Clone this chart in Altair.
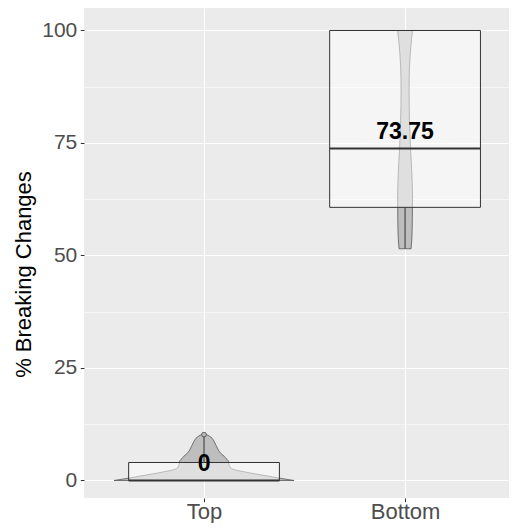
import altair as alt
import pandas as pd

# ---- data ----
groups = ["Top", "Bottom"]
group_pos = [1, 2]

q1 = [0, 60.7]
median = [0, 73.75]
q3 = [4, 100]
whisk_lo = [0, 51.5]
whisk_hi = [10, 100]

outlier_group = ["Top"]
outlier_value = [10.2]

# violin outlines: value levels and half-widths (in category units)
top_violin_y = [0, 0.5, 1.1, 1.85, 2.5, 3.0, 3.6, 4.2, 4.7, 5.4, 6.1, 6.9, 7.8, 8.7, 9.4, 9.9, 10.3]
top_violin_hw = [0.448, 0.378, 0.303, 0.209, 0.144, 0.129, 0.124, 0.122, 0.114, 0.100,
                 0.082, 0.070, 0.060, 0.050, 0.040, 0.025, 0.010]
bottom_violin_y = [51.5, 54, 58, 63, 69, 74, 80, 87, 92, 95, 98, 100]
bottom_violin_hw = [0.030, 0.034, 0.036, 0.037, 0.033, 0.027, 0.022, 0.020, 0.022, 0.026, 0.032, 0.037]

y_ticks = [0, 12.5, 25, 37.5, 50, 62.5, 75, 87.5, 100]

FONT = "Liberation Sans"
BOX_HALF = 0.375

# ---- tables ----
vrows = []
for g, p, ys, hws in [("Top", 1, top_violin_y, top_violin_hw),
                      ("Bottom", 2, bottom_violin_y, bottom_violin_hw)]:
    for y, h in zip(ys, hws):
        vrows.append({"group": g, "value": y, "lo": p - h, "hi": p + h})
violin_df = pd.DataFrame(vrows)

box_df = pd.DataFrame({
    "group": groups, "pos": group_pos, "q1": q1, "median": median, "q3": q3,
    "wlo": whisk_lo, "whi": whisk_hi,
})
box_df["blo"] = box_df["pos"] - BOX_HALF
box_df["bhi"] = box_df["pos"] + BOX_HALF

out_df = pd.DataFrame({"group": outlier_group, "value": outlier_value})
out_df["pos"] = out_df["group"].map(dict(zip(groups, group_pos)))

# ---- scales & axes ----
xscale = alt.Scale(domain=[0.403, 2.517], nice=False, zero=False)
yscale = alt.Scale(domain=[-3.89, 105], nice=False, zero=False)

x_label_expr = " : ".join(
    [f"datum.value == {p} ? '{g}'" for g, p in zip(groups, group_pos)]) + " : ''"

x_axis = alt.Axis(values=group_pos, labelExpr=x_label_expr, title=None, grid=True,
                  gridColor="white", gridWidth=1.1, tickSize=3.7, tickColor="#333333",
                  tickWidth=1, labelFontSize=22, labelColor="#4d4d4d", labelFont=FONT,
                  labelPadding=0, domain=False, labelFlush=False)

y_axis = alt.Axis(values=y_ticks,
                  labelExpr="datum.value % 25 == 0 ? datum.label : ''",
                  title="% Breaking Changes", titleFont=FONT, titleFontSize=22,
                  titleColor="black", titleFontWeight="normal", titleAngle=270,
                  titleX=-61, titleY=266, titleAlign="center", titleBaseline="middle",
                  labelFont=FONT, labelFontSize=21, labelColor="#4d4d4d",
                  labelPadding=3.5, tickSize=3.7, tickColor="#333333", tickWidth=1,
                  tickOpacity={"condition": {"test": "datum.value % 25 == 0", "value": 1}, "value": 0},
                  grid=True, gridColor="white",
                  gridWidth={"condition": {"test": "datum.value % 25 == 0", "value": 1.1}, "value": 0.55},
                  domain=False)


def X(field):
    return alt.X(field, scale=xscale, axis=x_axis)


def Y(field):
    return alt.Y(field, scale=yscale, axis=y_axis)


violin = alt.Chart(violin_df).mark_area(
    orient="horizontal", interpolate="monotone", fill="#bebebe",
    stroke="#555555", strokeWidth=0.8
).encode(
    y=Y("value:Q"), x=X("lo:Q"), x2="hi:Q", detail="group:N",
)

box = alt.Chart(box_df).mark_rect(
    fill="white", fillOpacity=0.5, stroke="#333333", strokeWidth=1
).encode(
    x=X("blo:Q"), x2="bhi:Q", y=Y("q1:Q"), y2="q3:Q",
)

med = alt.Chart(box_df).mark_rule(color="#333333", strokeWidth=2).encode(
    x=X("blo:Q"), x2="bhi:Q", y=Y("median:Q"),
)

whisk_low = alt.Chart(box_df).mark_rule(color="#333333", strokeWidth=1).encode(
    x=X("pos:Q"), y=Y("wlo:Q"), y2="q1:Q",
)
whisk_high = alt.Chart(box_df).mark_rule(color="#333333", strokeWidth=1).encode(
    x=X("pos:Q"), y=Y("q3:Q"), y2="whi:Q",
)

outl = alt.Chart(out_df).mark_point(
    shape="circle", size=22, filled=True, fill="#bdbdbd", stroke="#444444",
    strokeWidth=0.8, opacity=1
).encode(
    x=X("pos:Q"), y=Y("value:Q"),
)

labels = alt.Chart(box_df).mark_text(
    font=FONT, fontSize=23, fontWeight="bold", color="black",
    baseline="alphabetic", align="center", dy=-9.5
).encode(
    x=X("pos:Q"), y=Y("median:Q"),
    text=alt.Text("median:Q", format="~g"),
)

chart = alt.layer(violin, box, med, whisk_low, whisk_high, outl, labels).properties(
    width=425, height=490,
    autosize=alt.AutoSizeParams(type="none"),
    padding={"left": 76, "top": 0, "right": 0, "bottom": 25},
    background="white",
).configure_view(fill="#ebebeb", stroke=None)

chart.save("out.html", embed_options={"renderer": "svg", "actions": False})
